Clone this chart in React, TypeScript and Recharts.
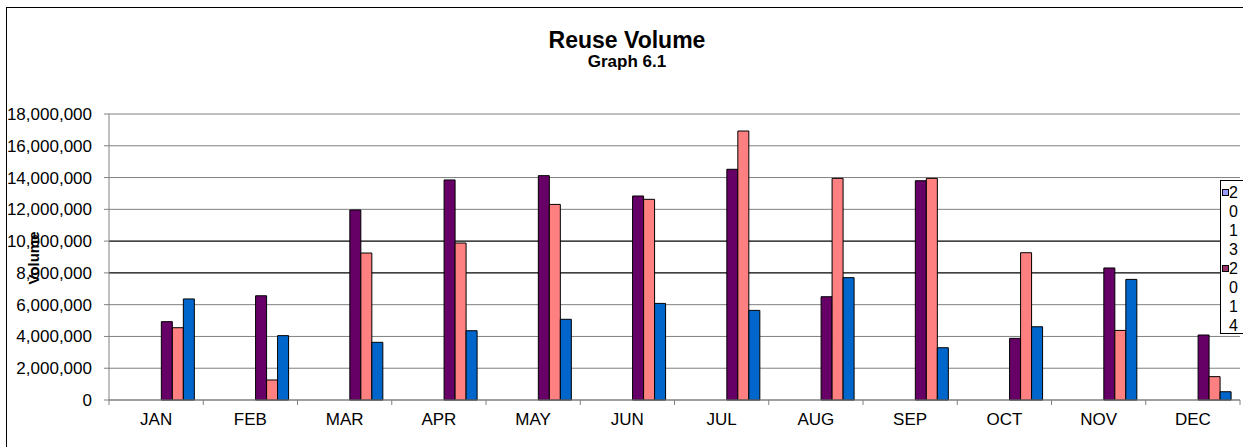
import { BarChart, Bar, XAxis, YAxis, CartesianGrid, Legend } from "recharts"

const FONT = "'Liberation Sans', Arial, sans-serif"

const MONTHS = ["JAN", "FEB", "MAR", "APR", "MAY", "JUN", "JUL", "AUG", "SEP", "OCT", "NOV", "DEC"]

// Excel-style 7 series; the first four hold no values but still take a slot in each cluster
const EMPTY: (number | null)[] = MONTHS.map(() => null)
const SERIES_5 = [4930000, 6560000, 11960000, 13850000, 14120000, 12840000, 14520000, 6500000, 13800000, 3880000, 8310000, 4090000]
const SERIES_6 = [4550000, 1260000, 9250000, 9880000, 12310000, 12630000, 16930000, 13950000, 13950000, 9270000, 4380000, 1470000]
const SERIES_7 = [6360000, 4050000, 3630000, 4360000, 5080000, 6080000, 5640000, 7700000, 3290000, 4610000, 7590000, 520000]

const Y_TICKS = [0, 2000000, 4000000, 6000000, 8000000, 10000000, 12000000, 14000000, 16000000, 18000000]
const DARK_GRID = [8000000, 10000000]

const SERIES = [
  { key: "s1", values: EMPTY, colour: "#9999FF" },
  { key: "s2", values: EMPTY, colour: "#993366" },
  { key: "s3", values: EMPTY, colour: "#FFFFCC" },
  { key: "s4", values: EMPTY, colour: "#CCFFFF" },
  { key: "s5", values: SERIES_5, colour: "#660066" },
  { key: "s6", values: SERIES_6, colour: "#FF8080" },
  { key: "s7", values: SERIES_7, colour: "#0066CC" },
]

// what is visible of the (clipped) legend box
const LEGEND_ENTRIES = [
  { colour: "#9999FF", lines: ["2", "0", "1", "3"] },
  { colour: "#993366", lines: ["2", "0", "1", "4"] },
]

const data = MONTHS.map((m, i) => {
  const row: Record<string, any> = { month: m }
  SERIES.forEach((s) => (row[s.key] = s.values[i]))
  return row
})

function fmt(v: any) {
  return new Intl.NumberFormat("en-US").format(Number(v))
}

function MonthTick(props: any) {
  const { x, y, payload, index } = props
  const half = payload?.offset ?? 47.1
  const top = y - 13
  return (
    <g>
      <line x1={x - half} x2={x - half} y1={top} y2={top + 5} stroke="#808080" />
      {index === MONTHS.length - 1 && (
        <line x1={x + half} x2={x + half} y1={top} y2={top + 5} stroke="#808080" />
      )}
      <text x={x} y={y} dy="0.71em" textAnchor="middle" fontSize={17} fontFamily={FONT} fill="#000">
        {payload.value}
      </text>
    </g>
  )
}

function BoxLegend() {
  return (
    <div
      style={{
        width: 80,
        height: 154,
        boxSizing: "border-box",
        border: "1px solid #000",
        background: "#fff",
        overflow: "hidden",
        paddingTop: 2,
        fontFamily: FONT,
        fontSize: 16,
        lineHeight: "19px",
        color: "#000",
      }}
    >
      {LEGEND_ENTRIES.map((e, i) => (
        <div key={i} style={{ position: "relative", paddingLeft: 8 }}>
          <span
            style={{
              position: "absolute",
              left: 1,
              top: 6,
              width: 7,
              height: 7,
              boxSizing: "border-box",
              background: e.colour,
              border: "1px solid #000",
            }}
          />
          {e.lines.map((l, j) => (
            <div key={j}>{l}</div>
          ))}
        </div>
      ))}
    </div>
  )
}

export default function App() {
  return (
    <div style={{ position: "absolute", left: 0, top: 0, width: 1243, height: 447, overflow: "hidden", background: "#fff" }}>
      {/* chart frame, runs off the right and bottom */}
      <div style={{ position: "absolute", left: 6, top: 7, width: 1300, height: 500, border: "1px solid #000" }} />

      <div style={{ position: "absolute", left: 0, top: 0 }}>
        <BarChart
          width={1243}
          height={447}
          data={data}
          margin={{ top: 114, right: 3, bottom: 17, left: 0 }}
          barCategoryGap="8.85%"
          barGap={0}
        >
          <CartesianGrid vertical={false} stroke="#808080" />
          <CartesianGrid vertical={false} stroke="#000" horizontalValues={DARK_GRID} />

          <XAxis
            dataKey="month"
            height={30}
            interval={0}
            tickSize={5}
            tickMargin={8}
            tickLine={false}
            axisLine={{ stroke: "#808080" }}
            tick={<MonthTick />}
          />
          <YAxis
            width={109}
            domain={[0, 18000000]}
            ticks={Y_TICKS}
            interval={0}
            tickFormatter={fmt}
            tickSize={5}
            tickMargin={12}
            axisLine={{ stroke: "#808080" }}
            tickLine={{ stroke: "#808080" }}
            tick={{ fontSize: 17, fontFamily: FONT, fill: "#000" }}
          />
          <YAxis
            yAxisId="r"
            orientation="right"
            width={0}
            domain={[0, 18000000]}
            tick={false}
            tickLine={false}
            axisLine={{ stroke: "#808080" }}
          />

          <Legend
            layout="horizontal"
            verticalAlign="middle"
            align="center"
            content={<BoxLegend />}
            wrapperStyle={{ left: 1220, top: 180, width: 80, height: 154 }}
          />

          {SERIES.map((s) => (
            <Bar
              key={s.key}
              dataKey={s.key}
              fill={s.colour}
              stroke="#000"
              strokeWidth={1}
              isAnimationActive={false}
            />
          ))}
        </BarChart>
      </div>

      <svg width={1243} height={447} style={{ position: "absolute", left: 0, top: 0, pointerEvents: "none" }}>
        <text x={627} y={48} textAnchor="middle" fontFamily={FONT} fontWeight="bold" fontSize={23} fill="#000">
          Reuse Volume
        </text>
        <text x={627} y={67} textAnchor="middle" fontFamily={FONT} fontWeight="bold" fontSize={17} fill="#000">
          Graph 6.1
        </text>
        <text
          transform="translate(38.5,258) rotate(-90)"
          textAnchor="middle"
          fontFamily={FONT}
          fontWeight="bold"
          fontSize={15}
          fill="#000"
        >
          Volume
        </text>
      </svg>
    </div>
  )
}
